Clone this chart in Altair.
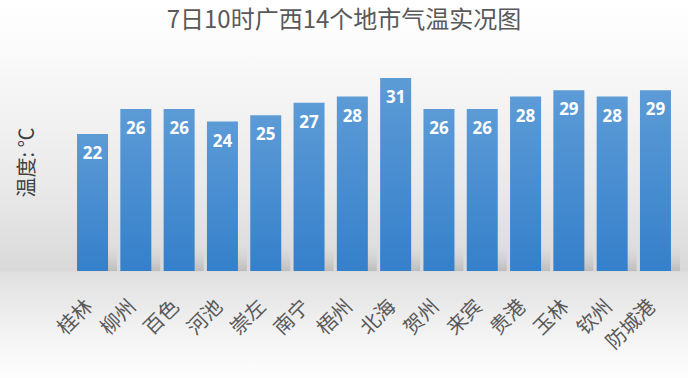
import altair as alt
import pandas as pd

cities = ["桂林", "柳州", "百色", "河池", "崇左", "南宁", "梧州", "北海", "贺州", "来宾", "贵港", "玉林", "钦州", "防城港"]
temps = [22, 26, 26, 24, 25, 27, 28, 31, 26, 26, 28, 29, 28, 29]

df = pd.DataFrame({"city": cities, "temp": temps})

x_enc = alt.X(
    "city:N",
    sort=cities,
    scale=alt.Scale(paddingInner=0.284, paddingOuter=0.347),
    axis=alt.Axis(
        title=None, labelAngle=-45, labelAlign="right", labelBaseline="middle",
        labelFontSize=20, labelFont="Noto Sans CJK SC", labelColor="#595959",
        labelPadding=32, labelOffset=-3, ticks=False, domain=False, grid=False,
        zindex=2,
    ),
)
y_enc = alt.Y(
    "temp:Q",
    scale=alt.Scale(domain=[0, 35], nice=False),
    axis=alt.Axis(
        title="温度: ℃", labels=False, ticks=False, domain=False, grid=False,
        titleAngle=-90, titleX=-35, titleY=109, titleAlign="center",
        titleBaseline="middle", titleFontSize=20, titleFont="Noto Sans CJK SC",
        titleColor="#404040", titleFontWeight="normal", zindex=2,
    ),
)

bg = alt.Chart(alt.Data(values=[{}])).mark_rect(
    fill=alt.Gradient(
        gradient="linear", x1=0, y1=0, x2=0, y2=1,
        stops=[
            alt.GradientStop(offset=0, color="#ffffff"),
            alt.GradientStop(offset=0.1, color="#fcfcfc"),
            alt.GradientStop(offset=0.24, color="#f5f5f5"),
            alt.GradientStop(offset=0.5, color="#e9e9e9"),
            alt.GradientStop(offset=0.717, color="#d9d9d9"),
            alt.GradientStop(offset=0.72, color="#e0e0e0"),
            alt.GradientStop(offset=0.9, color="#f5f5f5"),
            alt.GradientStop(offset=1, color="#fdfdfd"),
        ],
    )
).encode(x=alt.value(-62), x2=alt.value(626), y=alt.value(-53), y2=alt.value(325))

shadow = alt.Chart(df).mark_bar(
    xOffset=9,
    fill=alt.Gradient(
        gradient="linear", x1=0, y1=1, x2=0, y2=0,
        stops=[
            alt.GradientStop(offset=0, color="rgba(160,160,160,0.5)"),
            alt.GradientStop(offset=1, color="rgba(200,200,200,0)"),
        ],
    ),
).encode(x=x_enc, y=alt.datum(0), y2=alt.datum(4))

bars = alt.Chart(df).mark_bar(
    fill=alt.Gradient(
        gradient="linear", x1=0, y1=0, x2=0, y2=1,
        stops=[
            alt.GradientStop(offset=0, color="#5c9bd6"),
            alt.GradientStop(offset=1, color="#3580cb"),
        ],
    )
).encode(x=x_enc, y=y_enc)

labels = alt.Chart(df).mark_text(
    baseline="middle", dy=20, color="white", font="Open Sans",
    fontWeight="bold", fontSize=17,
).encode(x=x_enc, y=y_enc, text="temp:Q")

chart = alt.layer(bg, shadow, bars, labels).properties(
    width=624,
    height=218,
    padding={"left": 62, "top": 53, "right": 2, "bottom": 107},
    autosize=alt.AutoSizeParams(type="none"),
    title=alt.TitleParams(
        "7日10时广西14个地市气温实况图", fontSize=24, font="Noto Sans CJK SC",
        fontWeight="normal", color="#595959", anchor="middle", dx=-30,
        offset=-33, zindex=2,
    ),
).configure_view(stroke=None).configure(background="white")

chart.save("out.html", embed_options={"renderer": "svg", "actions": False})
